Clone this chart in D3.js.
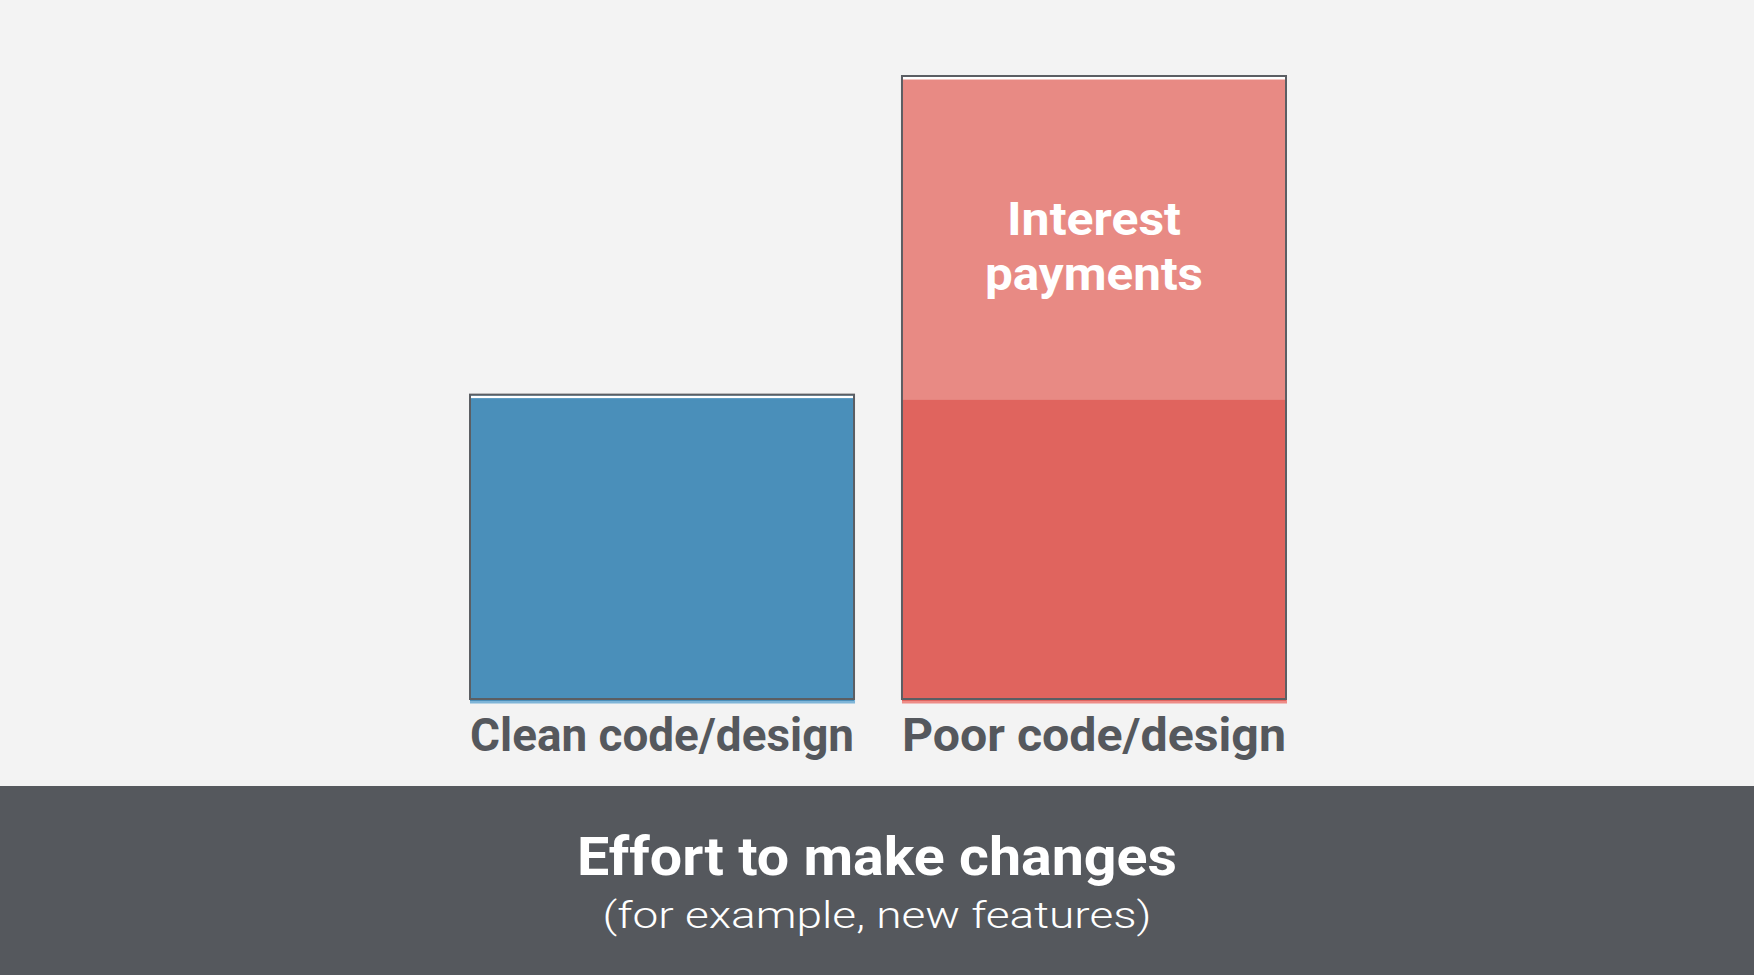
<!DOCTYPE html>
<html>
<head>
<meta charset="utf-8">
<script src="https://cdn.jsdelivr.net/npm/d3@7"></script>
<style>
  html, body { margin: 0; padding: 0; background: #f3f3f3; }
  svg { display: block; }
</style>
</head>
<body>
<svg id="chart" width="1754" height="975"></svg>
<script>
const categories = ["Clean code/design", "Poor code/design"];
const baseEffort = [1.0, 0.985];
const interestPayments = [0, 1.055];
const interestLabel = ["Interest", "payments"];
const titleText = "Effort to make changes";
const subtitleText = "(for example, new features)";

const W = 1754, H = 975;
const svg = d3.select("#chart");

svg.append("rect").attr("x", 0).attr("y", 0).attr("width", W).attr("height", H).attr("fill", "#f3f3f3");

const x = d3.scaleBand().domain(categories).range([470, 1286]).paddingInner(0.111).paddingOuter(0);
const y = d3.scaleLinear().domain([0, 2.04]).range([701, 76]);

const data = categories.map((c, i) => ({ cat: c, base: baseEffort[i], interest: interestPayments[i] }));
const baseColor = ["#4a8fba", "#e0645e"];
const lineColor = ["#7fb5d8", "#ee8c87"];
const interestColor = "#e88a84";
const labelLengths = [174, 218];

const g = svg.append("g");

data.forEach((d, i) => {
  const x0 = x(d.cat), bw = x.bandwidth();
  const total = d.base + d.interest;
  g.append("rect").attr("x", x0).attr("y", y(0) - 1).attr("width", bw + 1).attr("height", 3.5).attr("fill", lineColor[i]);
  g.append("rect").attr("x", x0).attr("y", y(d.base)).attr("width", bw).attr("height", y(0) - y(d.base)).attr("fill", baseColor[i]);
  if (d.interest > 0) {
    g.append("rect").attr("x", x0).attr("y", y(total)).attr("width", bw).attr("height", y(d.base) - y(total)).attr("fill", interestColor);
  } else {
    g.append("rect").attr("x", x0).attr("y", y(total)).attr("width", bw).attr("height", 6).attr("fill", baseColor[i]);
  }
  g.append("rect").attr("x", x0 + 1).attr("y", y(total) + 1).attr("width", bw - 2).attr("height", 2.5).attr("fill", "#ffffff");
  g.append("rect").attr("x", x0).attr("y", y(total)).attr("width", bw).attr("height", y(0) - 2 - y(total))
    .attr("fill", "none").attr("stroke", "#5b5e63").attr("stroke-width", 2);
  g.append("text").attr("x", x0).attr("y", 751).text(d.cat)
    .attr("font-family", "Roboto, 'Noto Sans', sans-serif").attr("font-weight", 700).attr("font-size", 46)
    .attr("fill", "#55585d").attr("textLength", bw).attr("lengthAdjust", "spacingAndGlyphs");
  if (d.interest > 0) {
    const cx = x0 + bw / 2;
    interestLabel.forEach((t, k) => {
      g.append("text").attr("x", cx).attr("y", 235 + k * 55).attr("text-anchor", "middle").text(t)
        .attr("font-family", "Roboto, 'Noto Sans', sans-serif").attr("font-weight", 700).attr("font-size", 46)
        .attr("fill", "#ffffff").attr("textLength", labelLengths[k]).attr("lengthAdjust", "spacingAndGlyphs");
    });
  }
});

svg.append("rect").attr("x", 0).attr("y", 786).attr("width", W).attr("height", H - 786).attr("fill", "#55585d");
svg.append("text").attr("x", W / 2).attr("y", 875).attr("text-anchor", "middle").text(titleText)
  .attr("font-family", "Roboto, 'Noto Sans', sans-serif").attr("font-weight", 700).attr("font-size", 53)
  .attr("fill", "#ffffff").attr("textLength", 600).attr("lengthAdjust", "spacingAndGlyphs");
svg.append("text").attr("x", W / 2).attr("y", 928).attr("text-anchor", "middle").text(subtitleText)
  .attr("font-family", "Roboto, 'Noto Sans', sans-serif").attr("font-weight", 300).attr("font-size", 37)
  .attr("fill", "#ffffff").attr("textLength", 549).attr("lengthAdjust", "spacingAndGlyphs");
</script>
</body>
</html>
